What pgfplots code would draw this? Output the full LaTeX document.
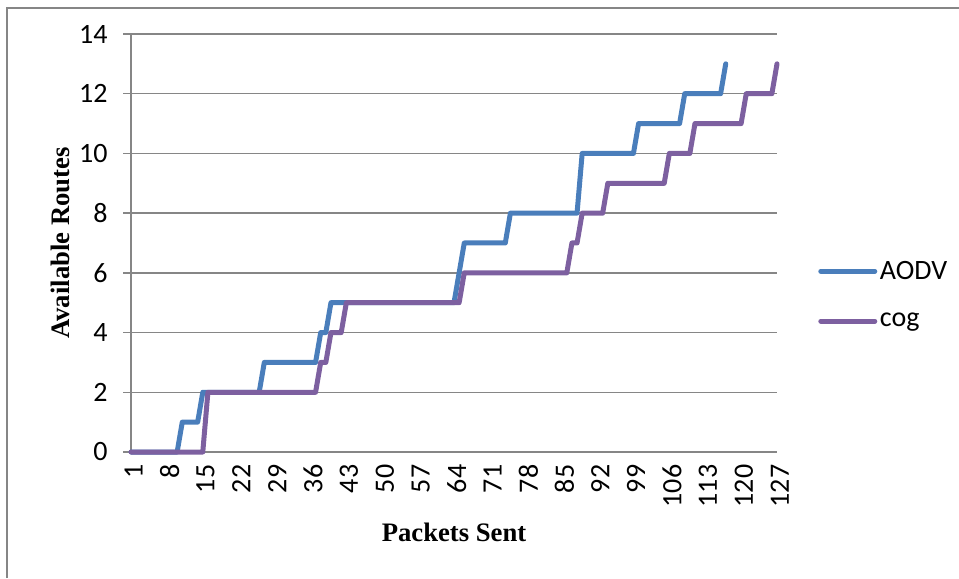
\documentclass[border=0pt]{standalone}
\usepackage{fontspec}
\setmainfont{Carlito}
\newfontfamily\titlefont{Liberation Serif}
\usepackage{pgfplots}
\pgfplotsset{compat=1.18}
\definecolor{aodv}{HTML}{4A7EBB}
\definecolor{cogc}{HTML}{7D60A0}
\definecolor{gridc}{HTML}{868686}

\begin{document}
\begin{tikzpicture}
% page frame, 1px = 0.75pt
\begin{scope}[x=0.75pt,y=0.75pt]
\useasboundingbox (0,0) rectangle (959,578);
\draw[gridc, line width=0.9pt] (7,0) -- (7,570) -- (959,570);
\end{scope}
\begin{axis}[
  at={(98.25pt,94.5pt)}, anchor=south west,
  scale only axis, width=484.5pt, height=313.5pt,
  xmin=1, xmax=127, ymin=0, ymax=14, clip=false,
  axis x line*=bottom, axis y line*=left,
  axis line style={draw=gridc, line width=1.1pt, -},
  xtick={1,8,...,127}, ytick={0,2,...,14},
  ymajorgrids, grid style={draw=gridc, line width=1.1pt},
  tick align=outside, major tick length=6pt,
  xtick style={draw=none}, ytick style={draw=gridc, line width=1.1pt},
  tick label style={font=\fontsize{21}{25}\selectfont},
  /pgf/number format/assume math mode=true,
  xticklabel style={rotate=90, anchor=east, yshift=-2pt},
  yticklabel style={xshift=-8pt},
  xlabel={Packets Sent}, ylabel={Available Routes},
  label style={font=\titlefont\bfseries\fontsize{20}{24}\selectfont},
  xlabel style={at={(axis description cs:0.5,-0.1914)}, anchor=center},
  ylabel style={at={(axis description cs:-0.1099,0.5)}, anchor=center},
  legend style={at={(axis description cs:1.0635,0.3756)}, anchor=west,
    draw=none, fill=none, font=\fontsize{21}{25}\selectfont, row sep=20pt,
    inner sep=0pt},
  legend cell align=left,
  legend image code/.code={\draw[#1] (0pt,0pt) -- (40.5pt,0pt);},
  every axis plot/.append style={line width=3.75pt, line join=round, line cap=round},
]
\addplot[aodv] coordinates {
 (1,0) (10,0) (11,1) (14,1) (15,2) (26,2) (27,3) (37,3) (38,4) (39,4)
 (40,5) (64,5) (65,6) (66,7) (74,7) (75,8) (88,8) (89,10) (99,10)
 (100,11) (108,11) (109,12) (116,12) (117,13)};
\addlegendentry{AODV}
\addplot[cogc] coordinates {
 (1,0) (15,0) (16,2) (37,2) (38,3) (39,3) (40,4) (42,4) (43,5) (65,5)
 (66,6) (86,6) (87,7) (88,7) (89,8) (93,8) (94,9) (105,9) (106,10)
 (110,10) (111,11) (120,11) (121,12) (126,12) (127,13)};
\addlegendentry{cog}
\end{axis}
\end{tikzpicture}
\end{document}
